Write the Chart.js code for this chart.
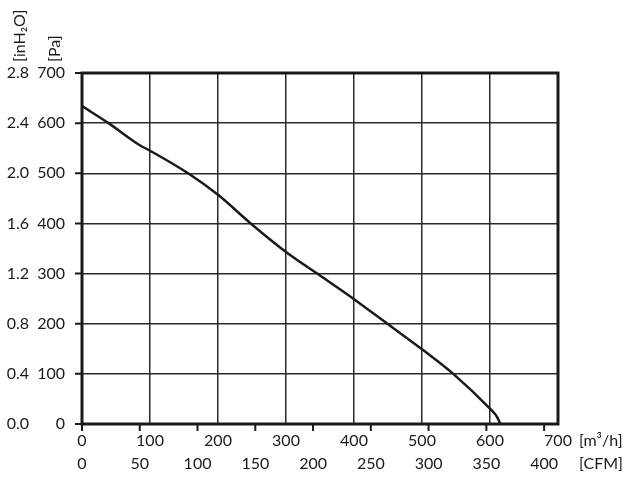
<!DOCTYPE html>
<html>
<head>
<meta charset="utf-8">
<script src="https://cdn.jsdelivr.net/npm/chart.js@4"></script>
<style>
  body { margin: 0; background: #fff; }
</style>
</head>
<body>
<canvas id="fanChart" width="633" height="481"></canvas>
<script>
// fan curve
const flowM3h = [0, 39, 85, 100, 156, 200, 249, 301, 349, 400, 450, 501, 546, 601, 610, 615];
const pressurePa = [634, 600, 556, 545, 500, 457, 399, 342, 297, 249, 199, 148, 100, 29, 15, 1];

// axis labels
const m3hTicks = [0, 100, 200, 300, 400, 500, 600, 700];
const cfmTicks = [0, 50, 100, 150, 200, 250, 300, 350, 400];
const paTicks = [0, 100, 200, 300, 400, 500, 600, 700];
const inH2OLabels = ['0.0', '0.4', '0.8', '1.2', '1.6', '2.0', '2.4', '2.8'];

const CFM_TO_M3H = 1.699;
const INK = '#1a1a1a';
const FONT = '16px Lato, "Noto Sans", sans-serif';

// frame, small tick marks and all the axis text
const framePlugin = {
  id: 'frame',
  afterDraw(chart) {
    const { ctx, chartArea: a, scales: { x, y } } = chart;
    ctx.save();
    ctx.strokeStyle = INK;
    ctx.fillStyle = INK;

    ctx.lineWidth = 2;
    ctx.beginPath();
    paTicks.forEach(v => {
      const py = y.getPixelForValue(v);
      ctx.moveTo(a.left - 7, py);
      ctx.lineTo(a.left, py);
    });
    cfmTicks.forEach(c => {
      const px = x.getPixelForValue(c * CFM_TO_M3H);
      ctx.moveTo(px, a.bottom);
      ctx.lineTo(px, a.bottom + 7);
    });
    ctx.stroke();

    ctx.lineWidth = 3;
    ctx.strokeRect(a.left, a.top, a.right - a.left, a.bottom - a.top);

    ctx.font = FONT;
    ctx.textBaseline = 'middle';
    ctx.textAlign = 'right';
    paTicks.forEach((v, i) => {
      const py = y.getPixelForValue(v);
      ctx.fillText(String(v), a.left - 17, py);
      ctx.fillText(inH2OLabels[i], a.left - 53, py);
    });

    ctx.textAlign = 'center';
    m3hTicks.forEach(v => {
      ctx.fillText(String(v), x.getPixelForValue(v), a.bottom + 17);
    });
    cfmTicks.forEach(c => {
      ctx.fillText(String(c), x.getPixelForValue(c * CFM_TO_M3H), a.bottom + 40);
    });

    ctx.textAlign = 'left';
    ctx.fillText('[m³/h]', a.right + 21, a.bottom + 17);
    ctx.fillText('[CFM]', a.right + 21, a.bottom + 40);

    // rotated unit titles
    ctx.save();
    ctx.translate(20, a.top - 11);
    ctx.rotate(-Math.PI / 2);
    ctx.fillText('[inH₂O]', 0, 0);
    ctx.restore();
    ctx.save();
    ctx.translate(55, a.top - 11);
    ctx.rotate(-Math.PI / 2);
    ctx.fillText('[Pa]', 0, 0);
    ctx.restore();

    ctx.restore();
  }
};

const config = {
  type: 'line',
  data: {
    datasets: [{
      data: flowM3h.map((f, i) => ({ x: f, y: pressurePa[i] })),
      borderColor: INK,
      borderWidth: 2.5,
      pointRadius: 0,
      cubicInterpolationMode: 'monotone',
      fill: false
    }]
  },
  options: {
    responsive: false,
    animation: false,
    layout: { padding: { left: 82, top: 73, right: 75, bottom: 57 } },
    plugins: { legend: { display: false }, tooltip: { enabled: false } },
    scales: {
      x: {
        type: 'linear', min: 0, max: 700,
        ticks: { display: false, stepSize: 100 },
        grid: { color: '#2a2a2a', lineWidth: 1.5, drawTicks: false },
        border: { display: false }
      },
      y: {
        min: 0, max: 700,
        ticks: { display: false, stepSize: 100 },
        grid: { color: '#2a2a2a', lineWidth: 1.5, drawTicks: false },
        border: { display: false }
      }
    }
  },
  plugins: [framePlugin]
};

const fanChart = new Chart(document.getElementById('fanChart'), config);
</script>
</body>
</html>
